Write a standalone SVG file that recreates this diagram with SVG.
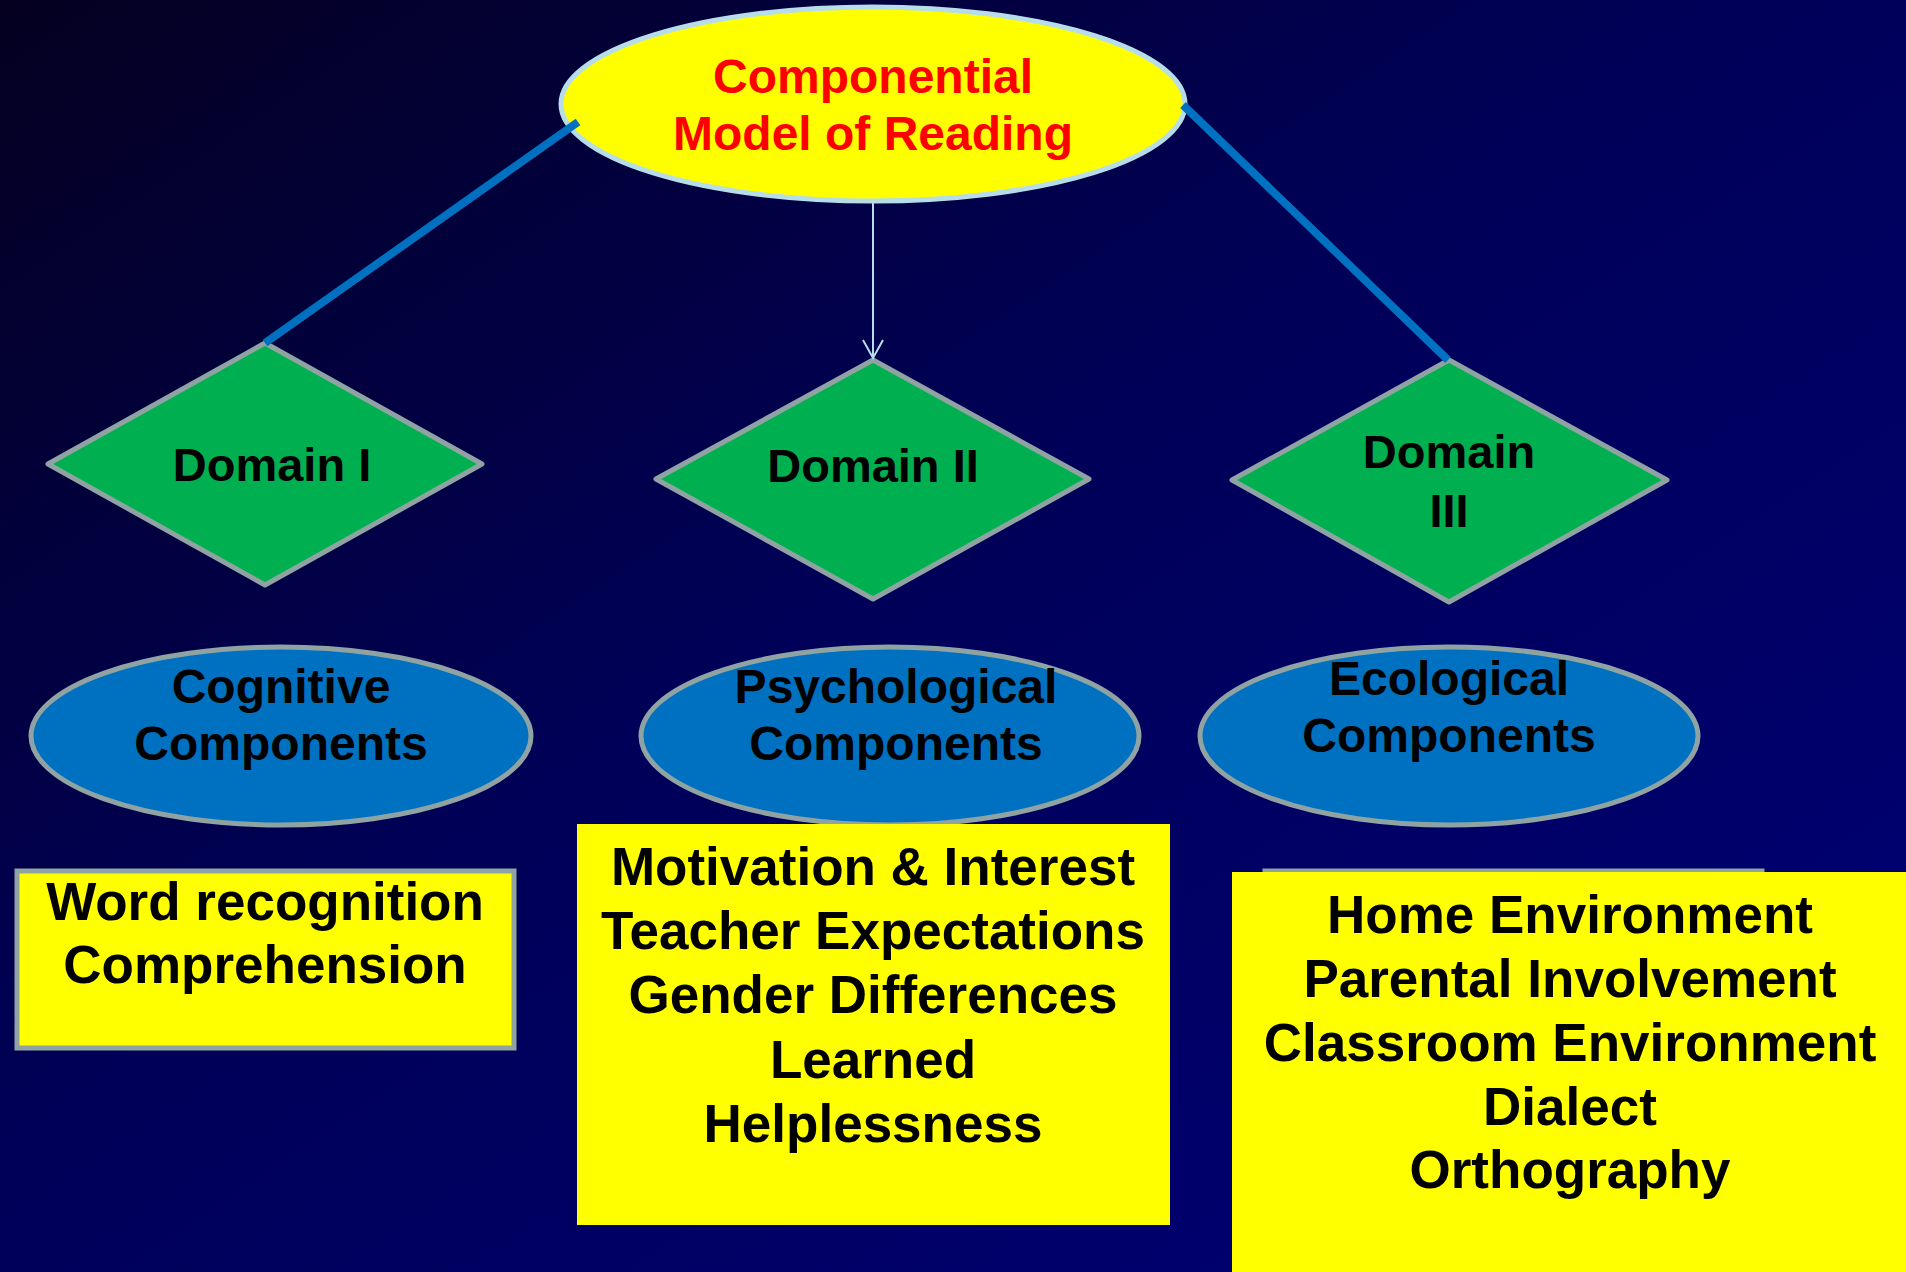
<svg xmlns="http://www.w3.org/2000/svg" width="1906" height="1272" viewBox="0 0 1906 1272">
<defs>
<linearGradient id="bg" x1="0" y1="0" x2="1" y2="1">
<stop offset="0" stop-color="#050020"/>
<stop offset="0.45" stop-color="#000058"/>
<stop offset="1" stop-color="#000078"/>
</linearGradient>
<marker id="arr" markerWidth="24" markerHeight="24" refX="20" refY="12" orient="auto" markerUnits="userSpaceOnUse">
<path d="M2,2 L20,12 L2,22" fill="none" stroke="#B7DEE8" stroke-width="2"/>
</marker>
<style>
.t{font-family:"Liberation Sans",Arial,sans-serif;font-weight:bold;text-anchor:middle;fill:#000}
.red{fill:#FF0000}
.dia{fill:#00B050;stroke:#8FA3A3;stroke-width:5;stroke-linejoin:round}
.ell{fill:#0070C0;stroke:#8FA3A3;stroke-width:5}
.box{fill:#FFFF00}
.boxb{fill:#FFFF00;stroke:#8FA3A3;stroke-width:5}
.blue{stroke:#0070C0;stroke-width:8;fill:none}
</style>
</defs>
<rect x="0" y="0" width="1906" height="1272" fill="url(#bg)"/>

<g id="root">
<ellipse cx="873" cy="104" rx="312" ry="97" fill="#FFFF00" stroke="#B7DEE8" stroke-width="5"/>
<text class="t red" x="873" y="93" font-size="48">Componential</text>
<text class="t red" x="873" y="150" font-size="48">Model of Reading</text>
</g>

<g id="domain1">
<polygon class="dia" points="265,343 482,464 265,585 48,464"/>
<text class="t" x="272" y="481" font-size="47">Domain I</text>
</g>
<g id="domain2">
<polygon class="dia" points="873,360 1089,479 873,599 656,479"/>
<text class="t" x="873" y="482" font-size="47">Domain II</text>
</g>
<g id="domain3">
<polygon class="dia" points="1449,360 1667,480 1449,602 1232,480"/>
<text class="t" x="1449" y="468" font-size="47">Domain</text>
<text class="t" x="1449" y="527" font-size="47">III</text>
</g>

<g id="connectors">
<line class="blue" x1="578" y1="122" x2="265" y2="343"/>
<line class="blue" x1="1183" y1="105" x2="1448" y2="360"/>
<line x1="873" y1="202" x2="873" y2="358" stroke="#B7DEE8" stroke-width="2" marker-end="url(#arr)"/>
</g>

<g id="cognitive">
<ellipse class="ell" cx="281" cy="736" rx="250" ry="89"/>
<text class="t" x="281" y="703" font-size="48">Cognitive</text>
<text class="t" x="281" y="760" font-size="48">Components</text>
</g>
<g id="psychological">
<ellipse class="ell" cx="890" cy="736" rx="249" ry="89"/>
<text class="t" x="896" y="703" font-size="48">Psychological</text>
<text class="t" x="896" y="760" font-size="48">Components</text>
</g>
<g id="ecological">
<ellipse class="ell" cx="1449" cy="736" rx="249" ry="89"/>
<text class="t" x="1449" y="695" font-size="48">Ecological</text>
<text class="t" x="1449" y="752" font-size="48">Components</text>
</g>

<g id="box1">
<rect class="boxb" x="17" y="871" width="497" height="177"/>
<text class="t" x="265" y="920" font-size="53">Word recognition</text>
<text class="t" x="265" y="983" font-size="53">Comprehension</text>
</g>

<g id="box2">
<rect class="box" x="577" y="824" width="593" height="401"/>
<text class="t" x="873" y="885" font-size="53">Motivation &amp; Interest</text>
<text class="t" x="873" y="949" font-size="53">Teacher Expectations</text>
<text class="t" x="873" y="1013" font-size="53">Gender Differences</text>
<text class="t" x="873" y="1078" font-size="53">Learned</text>
<text class="t" x="873" y="1142" font-size="53">Helplessness</text>
</g>

<g id="box3">
<rect class="boxb" x="1265" y="871" width="497" height="177"/>
<rect class="box" x="1232" y="872" width="674" height="400"/>
<text class="t" x="1570" y="933" font-size="53">Home Environment</text>
<text class="t" x="1570" y="997" font-size="53">Parental Involvement</text>
<text class="t" x="1570" y="1061" font-size="53">Classroom Environment</text>
<text class="t" x="1570" y="1125" font-size="53">Dialect</text>
<text class="t" x="1570" y="1188" font-size="53">Orthography</text>
</g>
</svg>
